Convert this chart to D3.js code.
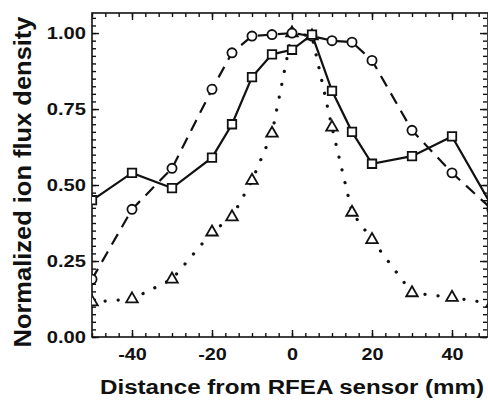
<!DOCTYPE html>
<html>
<head>
<meta charset="utf-8">
<script src="https://cdn.jsdelivr.net/npm/d3@7"></script>
<style>
  body { margin: 0; background: #fff; }
  text { font-family: "Liberation Sans", Arial, sans-serif; font-weight: bold; fill: #111; }
</style>
</head>
<body>
<div id="chart"></div>
<script>
// distance from sensor (mm)
const positions = [-50, -40, -30, -20, -15, -10, -5, 0, 5, 10, 15, 20, 30, 40, 50];
// normalized ion flux density, one list per curve
const squareVals = [0.45, 0.54, 0.49, 0.59, 0.70, 0.855, 0.93, 0.945, 0.995, 0.81, 0.675, 0.57, 0.595, 0.66, 0.43];
const circleVals = [0.19, 0.42, 0.555, 0.815, 0.935, 0.99, 0.995, 1.0, 0.99, 0.975, 0.97, 0.91, 0.68, 0.54, 0.42];
const triangleVals = [0.115, 0.125, 0.19, 0.345, 0.395, 0.515, 0.67, 1.0, 0.99, 0.69, 0.41, 0.32, 0.145, 0.13, 0.11];

const xTicks = [-40, -20, 0, 20, 40];
const yTicks = [0, 0.25, 0.5, 0.75, 1.0];

const width = 488;
const height = 401;
const plotLeft = 92, plotRight = 488, plotTop = 13, plotBottom = 337;

const svg = d3.select('#chart')
  .append('svg')
  .attr('width', width)
  .attr('height', height);

const xScale = d3.scaleLinear().domain([-50, 49]).range([plotLeft, plotRight]);
const yScale = d3.scaleLinear().domain([0, 1.066]).range([plotBottom, plotTop]);

const xMinor = d3.range(-50, 49.01, 10 / 3);
const yMinor = d3.range(0, 1.066, 0.025);

// stretch text a bit wider, like the source figure
const widen = (sel, k) => sel.each(function () {
  const len = this.getComputedTextLength();
  d3.select(this).attr('textLength', len * k).attr('lengthAdjust', 'spacingAndGlyphs');
});

const styleAxis = g => {
  g.select('.domain').remove();
  g.selectAll('line').attr('stroke', '#111').attr('stroke-width', 1.4);
};

// minor ticks, all four sides, pointing inward
svg.append('g').attr('transform', `translate(0,${plotBottom})`)
  .call(d3.axisBottom(xScale).tickValues(xMinor).tickSize(-4).tickFormat(''))
  .call(styleAxis);
svg.append('g').attr('transform', `translate(0,${plotTop})`)
  .call(d3.axisTop(xScale).tickValues(xMinor).tickSize(-4).tickFormat(''))
  .call(styleAxis);
svg.append('g').attr('transform', `translate(${plotLeft},0)`)
  .call(d3.axisLeft(yScale).tickValues(yMinor).tickSize(-4).tickFormat(''))
  .call(styleAxis);
svg.append('g').attr('transform', `translate(${plotRight - 1},0)`)
  .call(d3.axisRight(yScale).tickValues(yMinor).tickSize(-4).tickFormat(''))
  .call(styleAxis);

// major ticks with labels (plain hyphen for negatives, as in the figure)
const xAxis = svg.append('g').attr('transform', `translate(0,${plotBottom})`)
  .call(d3.axisBottom(xScale).tickValues(xTicks).tickSize(-7).tickPadding(11).tickFormat(d => String(d)))
  .call(styleAxis);
xAxis.selectAll('text').style('font-size', '16.5px').attr('dy', '0.75em').call(widen, 1.2);

const yAxis = svg.append('g').attr('transform', `translate(${plotLeft},0)`)
  .call(d3.axisLeft(yScale).tickValues(yTicks).tickSize(-7).tickPadding(6).tickFormat(d => d.toFixed(2)))
  .call(styleAxis);
yAxis.selectAll('text').style('font-size', '16.5px').attr('dy', '0.35em').call(widen, 1.22);

svg.append('g').attr('transform', `translate(0,${plotTop})`)
  .call(d3.axisTop(xScale).tickValues(xTicks).tickSize(-7).tickFormat(''))
  .call(styleAxis);
svg.append('g').attr('transform', `translate(${plotRight - 1},0)`)
  .call(d3.axisRight(yScale).tickValues(yTicks).tickSize(-7).tickFormat(''))
  .call(styleAxis);

// frame
svg.append('rect')
  .attr('x', plotLeft).attr('y', plotTop)
  .attr('width', plotRight - plotLeft).attr('height', plotBottom - plotTop)
  .attr('fill', 'none').attr('stroke', '#111').attr('stroke-width', 1.6);

// axis titles
svg.append('text')
  .attr('x', 292).attr('y', 394)
  .attr('text-anchor', 'middle')
  .style('font-size', '20px')
  .text('Distance from RFEA sensor (mm)')
  .attr('textLength', 384).attr('lengthAdjust', 'spacingAndGlyphs');

svg.append('text')
  .attr('transform', 'translate(31,182) rotate(-90)')
  .attr('text-anchor', 'middle')
  .style('font-size', '23px')
  .text('Normalized ion flux density')
  .attr('textLength', 331).attr('lengthAdjust', 'spacingAndGlyphs');

// data
svg.append('clipPath').attr('id', 'plot-clip')
  .append('rect')
  .attr('x', plotLeft).attr('y', plotTop)
  .attr('width', plotRight - plotLeft).attr('height', plotBottom - plotTop);

const plot = svg.append('g').attr('clip-path', 'url(#plot-clip)');

const series = [
  { name: 'square', values: squareVals, dash: null, width: 2.2, cap: 'butt' },
  { name: 'circle', values: circleVals, dash: '12,8', width: 2.2, cap: 'butt' },
  { name: 'triangle', values: triangleVals, dash: '0.1,13', width: 3.2, cap: 'round' }
];

const line = d3.line()
  .x(d => xScale(d.x))
  .y(d => yScale(d.y));

series.forEach(s => {
  s.points = positions.map((x, i) => ({ x: x, y: s.values[i] }));
});

// draw the dotted curve first so the other lines sit on top
[series[2], series[1], series[0]].forEach(s => {
  plot.append('path')
    .datum(s.points)
    .attr('fill', 'none')
    .attr('stroke', '#111')
    .attr('stroke-width', s.width)
    .attr('stroke-linecap', s.cap)
    .attr('stroke-dasharray', s.dash)
    .attr('d', line);
});

const symbols = {
  square: d3.symbol().type(d3.symbolSquare).size(72),
  circle: d3.symbol().type(d3.symbolCircle).size(66),
  triangle: d3.symbol().type(d3.symbolTriangle).size(58)
};

[series[2], series[1], series[0]].forEach(s => {
  plot.selectAll(`.marker-${s.name}`)
    .data(s.points)
    .enter()
    .append('path')
    .attr('class', `marker-${s.name}`)
    .attr('transform', d => `translate(${xScale(d.x)},${yScale(d.y)})`)
    .attr('d', symbols[s.name])
    .attr('fill', '#fff')
    .attr('stroke', '#111')
    .attr('stroke-width', 1.8);
});
</script>
</body>
</html>
